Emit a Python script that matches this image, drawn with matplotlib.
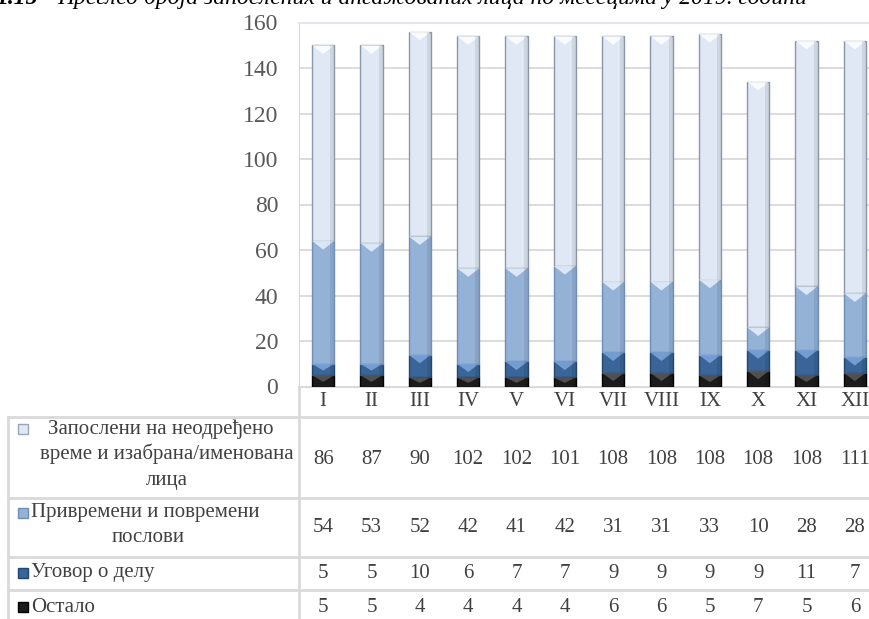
import matplotlib.pyplot as plt
import matplotlib.transforms as mtransforms
import numpy as np

months = ['I', 'II', 'III', 'IV', 'V', 'VI', 'VII', 'VIII', 'IX', 'X', 'XI', 'XII']
ostalo = [5, 5, 4, 4, 4, 4, 6, 6, 5, 7, 5, 6]
ugovor = [5, 5, 10, 6, 7, 7, 9, 9, 9, 9, 11, 7]
privremeni = [54, 53, 52, 42, 41, 42, 31, 31, 33, 10, 28, 28]
zaposleni = [86, 87, 90, 102, 102, 101, 108, 108, 108, 108, 108, 111]

series = [ostalo, ugovor, privremeni, zaposleni]
colors = ['#1c1c1c', '#3a6598', '#94b1d6', '#dfe8f4']
edges = ['#000000', '#24466f', '#6f8fb8', '#8c97a6']
tops = ['#5a5a5a', '#7ea6dc', '#e8f1fc', '#ffffff']

W, H = 869, 619
plt.rcParams['font.family'] = ['Liberation Serif', 'DejaVu Serif']

fig = plt.figure(figsize=(W / 100, H / 100), dpi=100)
fig.patch.set_facecolor('white')

# main plot area (extends past the right edge, like the cropped original)
left, right = 299, 879
top_px, zero_px = 22.5, 386.5
ax = fig.add_axes([left / W, 1 - zero_px / H, (right - left) / W, (zero_px - top_px) / H])
ax.set_xlim(-0.5, 11.5)
ax.set_ylim(0, 160)
ax.set_yticks(range(0, 161, 20))
ax.set_xticks([])
ax.grid(axis='y', color='#d9d9d9', linewidth=1.3)
ax.set_axisbelow(True)
for s in ['right', 'bottom']:
    ax.spines[s].set_visible(False)
ax.spines['top'].set_color('#e3e6ea')
ax.spines['top'].set_linewidth(1.5)
ax.spines['left'].set_color('#c9d9ee')
ax.tick_params(axis='y', length=0, pad=15, labelsize=17, labelcolor='#595959')

x = np.arange(len(months))
bw = 0.46
bottom = np.zeros(len(months))
tri_h = 3.8
for vals, c, ec, tc in zip(series, colors, edges, tops):
    vals = np.array(vals, dtype=float)
    ax.bar(x, vals, bw, bottom=bottom, color=c, edgecolor=ec, linewidth=1.0, zorder=2)
    # bevel highlight at top of each segment
    for xi, b, v in zip(x, bottom, vals):
        t = b + v
        h = min(tri_h, v * 0.6)
        ax.fill([xi - bw / 2, xi + bw / 2, xi], [t, t, t - h], color=tc, alpha=0.85,
                zorder=3, linewidth=0)
        # darker right side shading
        ax.fill([xi + bw * 0.32, xi + bw / 2, xi + bw / 2, xi + bw * 0.32],
                [b, b, t, t], color='black', alpha=0.08, zorder=3, linewidth=0)
    bottom += vals

# overlay in pixel coordinates for the data table
ov = fig.add_axes([0, 0, 1, 1], zorder=-1)
ov.set_xlim(0, W)
ov.set_ylim(H, 0)
ov.axis('off')
ov.patch.set_alpha(0)
col = mtransforms.blended_transform_factory(ax.transData, ov.transData)

line_c = '#d9d9d9'
ov.plot([left, W], [zero_px, zero_px], color=line_c, lw=1.5)
ov.plot([left, left], [zero_px, H], color=line_c, lw=2)
ov.plot([8, 8], [417, H], color=line_c, lw=2)
for yy in [417, 498, 557, 590]:
    ov.plot([8, W], [yy, yy], color=line_c, lw=2)

txt_c = '#404040'
fs = 15
for i, m in enumerate(months):
    ax.text(i, 402, m, transform=col, ha='center', va='center', fontsize=fs, color=txt_c,
            clip_on=False)

row_y = [459, 528, 573, 607]
table_rows = [zaposleni, privremeni, ugovor, ostalo]
for yy, vals in zip(row_y, table_rows):
    for i, v in enumerate(vals):
        ax.text(i, yy, str(v), transform=col, ha='center', va='center', fontsize=fs,
                color=txt_c, clip_on=False)

# row labels with legend keys
def key(x0, yc, fc, ec):
    ov.add_patch(plt.Rectangle((x0, yc - 5), 10, 10, facecolor=fc, edgecolor=ec, lw=1))

key(18, 429, colors[3], '#9aa6b5')
ov.text(48, 429, 'Запослени на неодређено', ha='left', va='center', fontsize=fs, color=txt_c)
ov.text(167, 454, 'време и изабрана/именована', ha='center', va='center', fontsize=fs, color=txt_c)
ov.text(167, 480, 'лица', ha='center', va='center', fontsize=fs, color=txt_c)

key(18, 513, colors[2], edges[2])
ov.text(31, 513, 'Привремени и повремени', ha='left', va='center', fontsize=fs, color=txt_c)
ov.text(148, 538, 'послови', ha='center', va='center', fontsize=fs, color=txt_c)

key(18, 573, colors[1], edges[1])
ov.text(31, 573, 'Уговор о делу', ha='left', va='center', fontsize=fs, color=txt_c)

key(18, 607, colors[0], edges[0])
ov.text(31, 607, 'Остало', ha='left', va='center', fontsize=fs, color=txt_c)

# caption cut off at the top edge, as in the source image
ov.text(-4, 4, '1.15', ha='left', va='baseline', fontsize=17, style='italic', weight='bold',
        color='black')
ov.text(57, 4, 'Преглед броја запослених и ангажованих лица по месецима у 2019. години',
        ha='left', va='baseline', fontsize=17, style='italic', color='black')

fig.savefig('out.png', dpi=100)
